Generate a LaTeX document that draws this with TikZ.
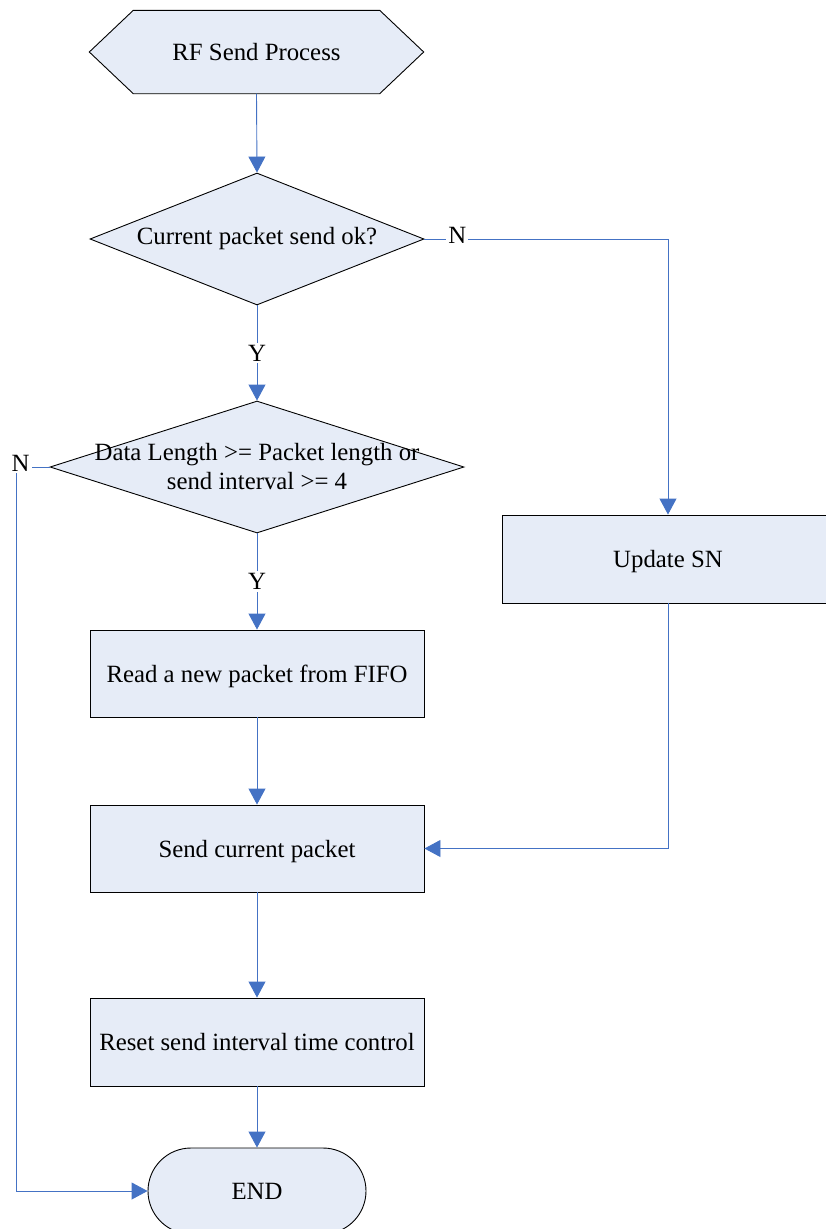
\documentclass[tikz,border=0pt]{standalone}
\usepackage{fontspec}
\setmainfont{Liberation Serif}
\usetikzlibrary{arrows.meta,shapes.geometric,shapes.misc,calc}
\definecolor{flowblue}{RGB}{68,114,196}
\definecolor{boxfill}{RGB}{230,236,247}
\begin{document}
\begin{tikzpicture}[x=1pt,y=1pt,
  font=\fontsize{24.8}{29}\selectfont,
  base/.style={draw=black, line width=0.9pt, fill=boxfill, inner sep=0pt},
  procbox/.style={base, rectangle, minimum width=334pt, minimum height=87pt, text depth=0pt},
  decision/.style={base, diamond, minimum width=#1, minimum height=132pt},
  terminal/.style={base, rounded rectangle, minimum width=218pt, minimum height=86pt, text depth=0pt},
  flow/.style={draw=flowblue, line width=0.9pt, -{Triangle[length=16pt,width=17pt]}},
  tag/.style={fill=white, inner sep=2pt, text=black}
]
% page frame
\useasboundingbox (0,0) rectangle (825,-1229);

% start: hexagon drawn around an invisible frame node
\node (start) [rectangle, minimum width=334pt, minimum height=83pt, inner sep=0pt] at (256.5,-52) {};
\draw[base] (start.west) -- ([xshift=44pt]start.north west) -- ([xshift=-44pt]start.north east)
  -- (start.east) -- ([xshift=-44pt]start.south east) -- ([xshift=44pt]start.south west) -- cycle;
\node (starttext) at (start) {RF Send Process};

% decisions
\node (d1) [decision=334pt, label={[name=d1text]center:Current packet send ok?}] at (257,-239) {};
\node (d2) [decision=414pt, label={[name=d2text, align=center]center:Data Length >= Packet length or\\send interval >= 4}] at (257,-467) {};

% process steps
\node (read)  [procbox] at (257,-673.5) {Read a new packet from FIFO};
\node (send)  [procbox] at (257,-848.5) {Send current packet};
\node (reset) [procbox, minimum height=88pt] at (257,-1042) {Reset send interval time control};
\node (upd)   [procbox, minimum width=332pt, minimum height=88pt] at (668,-559) {Update SN};
\node (endn)  [terminal] at (257,-1191) {END};

% connectors
\draw[flow] (start.south) -- (d1.north);
\draw[flow] (d1.south) -- node[tag] (y1) {Y} (d2.north);
\draw[flow] (d2.south) -- node[tag] (y2) {Y} (read.north);
\draw[flow] (read) -- (send);
\draw[flow] (send) -- (reset);
\draw[flow] (reset) -- (endn);
\draw[flow] (d1.east) -- node[tag, pos=0.135, yshift=4pt] (n1) {N} (d1.east -| upd.north) -- (upd.north);
\draw[flow] (upd.south) |- (send.east);
\draw[flow] (d2.west) -- ++(-33pt,0) node[tag, xshift=4pt, yshift=4pt] (n2) {N} |- (endn.west);
\end{tikzpicture}
\end{document}
